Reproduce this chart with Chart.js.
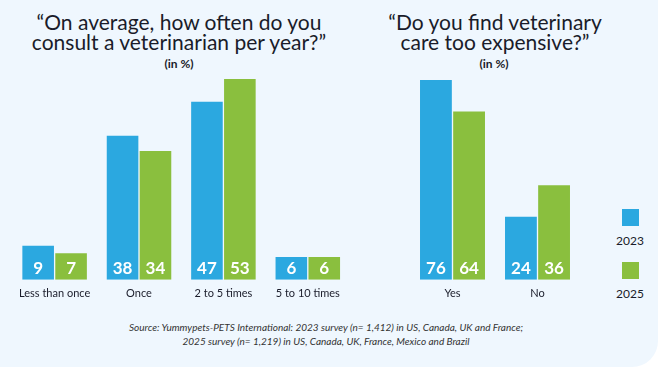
<!DOCTYPE html>
<html>
<head>
<meta charset="utf-8">
<script src="https://cdn.jsdelivr.net/npm/chart.js@4"></script>
<style>
  html, body { margin: 0; padding: 0; background: #ffffff; }
  #panel {
    position: relative; width: 658px; height: 367px;
    background: #eff7fe; border-bottom-right-radius: 26px; overflow: hidden;
    font-family: Lato, "Noto Sans", sans-serif; color: #1a1c2a;
  }
  .title { position: absolute; text-align: center; font-size: 21px; line-height: 20px; }
  .unit { position: absolute; text-align: center; font-size: 12px; font-weight: bold; }
  .box { position: absolute; width: 17px; height: 17px; }
  .lg { position: absolute; width: 40px; text-align: center; font-size: 12px; }
  #source {
    position: absolute; left: 0; width: 652px; top: 320px; text-align: center;
    font-size: 10px; font-style: italic; line-height: 14px; color: #333;
  }
  canvas { position: absolute; }
</style>
</head>
<body>
<div id="panel">
  <div class="title" style="left:0;width:358px;top:12px;">“On average, how often do you<br>consult a veterinarian per year?”</div>
  <div class="unit" style="left:0;width:358px;top:56px;">(in %)</div>
  <div class="title" style="left:380px;width:230px;top:12px;">“Do you find veterinary<br>care too expensive?”</div>
  <div class="unit" style="left:380px;width:228px;top:56px;">(in %)</div>

  <div style="position:absolute;left:12px;top:79px;width:338px;height:228px;"><canvas id="freqChart"></canvas></div>
  <div style="position:absolute;left:410px;top:80px;width:170px;height:227px;"><canvas id="costChart"></canvas></div>

  <div class="box" style="left:622px;top:209px;background:#2ba8e0;"></div>
  <div class="lg" style="left:610px;top:233px;">2023</div>
  <div class="box" style="left:622px;top:262px;background:#8abf3e;"></div>
  <div class="lg" style="left:610px;top:286px;">2025</div>

  <div id="source">Source: Yummypets-PETS International: 2023 survey (n= 1,412) in US, Canada, UK and France;<br>2025 survey (n= 1,219) in US, Canada, UK, France, Mexico and Brazil</div>
</div>
<script>
const freqLabels = ["Less than once", "Once", "2 to 5 times", "5 to 10 times"];
const freq2023 = [9, 38, 47, 6];
const freq2025 = [7, 34, 53, 6];

const costLabels = ["Yes", "No"];
const cost2023 = [76, 24];
const cost2025 = [64, 36];

const blue = "#2ba8e0";
const green = "#8abf3e";

// white numbers sitting at the bottom of each bar
const valueLabels = {
  id: "valueLabels",
  afterDatasetsDraw(chart) {
    const ctx = chart.ctx;
    ctx.save();
    ctx.fillStyle = "#ffffff";
    ctx.font = "bold 17px Lato, sans-serif";
    ctx.textAlign = "center";
    ctx.textBaseline = "middle";
    chart.data.datasets.forEach((ds, i) => {
      chart.getDatasetMeta(i).data.forEach((bar, j) => {
        ctx.fillText(ds.data[j], bar.x, bar.base - 11);
      });
    });
    ctx.restore();
  }
};

function barChart(id, labels, a, b, max) {
  return new Chart(document.getElementById(id), {
    type: "bar",
    data: {
      labels: labels,
      datasets: [
        { label: "2023", data: a, backgroundColor: blue },
        { label: "2025", data: b, backgroundColor: green }
      ]
    },
    options: {
      responsive: true,
      maintainAspectRatio: false,
      animation: false,
      layout: { padding: 0 },
      categoryPercentage: 0.78,
      barPercentage: 0.96,
      plugins: { legend: { display: false }, tooltip: { enabled: false } },
      scales: {
        y: { display: false, min: 0, max: max },
        x: {
          grid: { display: false, drawTicks: false },
          border: { display: false },
          ticks: { color: "#1a1c2a", font: { family: "Lato", size: 11 }, padding: 7, maxRotation: 0 }
        }
      }
    },
    plugins: [valueLabels]
  });
}

barChart("freqChart", freqLabels, freq2023, freq2025, 53);
barChart("costChart", costLabels, cost2023, cost2025, 76);
</script>
</body>
</html>
